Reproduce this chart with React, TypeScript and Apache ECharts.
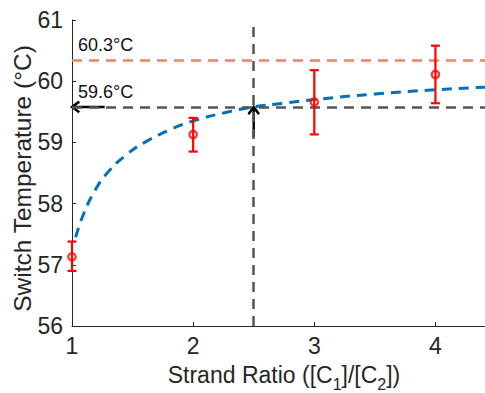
import React, { useEffect, useRef } from "react";
import * as echarts from "echarts";

// Measured points (mean with error range)
const ratios = [1, 2, 3, 4];
const tempMean = [57.13, 59.13, 59.66, 60.11];
const tempLow = [56.9, 58.85, 59.13, 59.64];
const tempHigh = [57.38, 59.4, 60.18, 60.58];

// Fitted curve
const fitX = [1.03, 1.1, 1.2, 1.3, 1.45, 1.6, 1.8, 2.0, 2.25, 2.5, 2.75, 3.0, 3.5, 4.0, 4.5];
const fitY = [57.45, 57.85, 58.25, 58.52, 58.8, 59.0, 59.2, 59.35, 59.48, 59.58, 59.64, 59.7, 59.79, 59.86, 59.91];

// Reference levels
const plateauTemp = 60.35;
const plateauLabel = "60.3°C";
const switchTemp = 59.58;
const switchLabel = "59.6°C";
const switchRatio = 2.5;

// Axis setup
const xMin = 1;
const xMax = 4.5;
const yMin = 56;
const yMax = 61;
const xTicks = [1, 2, 3, 4];

// Arrows: tail x, tail y, head x, head y
const arrows = [
  [1.27, switchTemp, 1.0, switchTemp],
  [switchRatio, 59.09, switchRatio, switchTemp],
];

export default function App() {
  const ref = useRef<HTMLDivElement>(null);
  useEffect(() => {
    if (!ref.current) return;
    const chart = echarts.init(ref.current, null, { renderer: "svg" });
    const font = "Liberation Sans, Arial, sans-serif";
    const axisColor = "#262626";
    chart.setOption({
      animation: false,
      grid: {
        left: 72,
        top: 20,
        width: 424,
        height: 306,
        containLabel: false,
        outerBoundsMode: "none",
      },
      xAxis: {
        type: "value",
        min: xMin,
        max: xMax,
        interval: 1,
        name: "Strand Ratio ([C{s|1}]/[C{s|2}])",
        nameLocation: "middle",
        nameGap: 31,
        nameMoveOverlap: false,
        nameTextStyle: {
          fontFamily: font,
          fontSize: 23,
          color: axisColor,
          rich: {
            s: { fontSize: 16, fontFamily: font, color: axisColor, padding: [19, 0, 0, 0] },
          },
        },
        splitLine: { show: false },
        axisLine: { lineStyle: { color: axisColor, width: 1 } },
        axisTick: { inside: true, length: 4, lineStyle: { color: axisColor } },
        axisLabel: {
          fontFamily: font,
          fontSize: 23,
          color: axisColor,
          margin: 8,
          customValues: xTicks,
          formatter: (v: number) => (xTicks.includes(v) ? String(v) : ""),
        },
      },
      yAxis: {
        type: "value",
        min: yMin,
        max: yMax,
        interval: 1,
        name: "Switch Temperature (°C)",
        nameLocation: "middle",
        nameGap: 37,
        nameMoveOverlap: false,
        nameTextStyle: {
          fontFamily: font,
          fontSize: 24.5,
          color: axisColor,
          padding: [0, 11, 0, 0],
        },
        splitLine: { show: false },
        axisLine: { show: true, lineStyle: { color: axisColor, width: 1 } },
        axisTick: { show: true, inside: true, length: 4, lineStyle: { color: axisColor } },
        axisLabel: { fontFamily: font, fontSize: 23, color: axisColor, margin: 9 },
      },
      series: [
        {
          type: "line",
          data: [],
          silent: true,
          markLine: {
            silent: true,
            symbol: ["none", "none"],
            animation: false,
            data: [
              [
                {
                  coord: [xMin, plateauTemp],
                  lineStyle: { color: "#E8875E", width: 2.5, type: [10, 7] },
                  label: {
                    show: true,
                    position: "insideStartTop",
                    formatter: plateauLabel,
                    fontFamily: font,
                    fontSize: 18,
                    color: "#111",
                    distance: [6, 6],
                  },
                },
                { coord: [xMax, plateauTemp] },
              ],
              [
                {
                  coord: [xMin, switchTemp],
                  lineStyle: { color: "#555555", width: 2.5, type: [10, 7] },
                  label: {
                    show: true,
                    position: "insideStartTop",
                    formatter: switchLabel,
                    fontFamily: font,
                    fontSize: 18,
                    color: "#111",
                    distance: [6, 6],
                  },
                },
                { coord: [xMax, switchTemp] },
              ],
              [
                {
                  coord: [switchRatio, yMin],
                  lineStyle: { color: "#555555", width: 2.5, type: [10, 7] },
                  label: { show: false },
                },
                { coord: [switchRatio, 60.95] },
              ],
            ],
          },
        },
        {
          type: "line",
          data: fitX.map((x, i) => [x, fitY[i]]),
          showSymbol: false,
          smooth: true,
          lineStyle: { color: "#0072BD", width: 3, type: [10, 7] },
          z: 3,
        },
        {
          type: "custom",
          data: arrows,
          encode: { x: [0, 2], y: [1, 3] },
          z: 4,
          renderItem: (params: any, api: any) => {
            const p0 = api.coord([api.value(0), api.value(1)]);
            const p1 = api.coord([api.value(2), api.value(3)]);
            const ang = Math.atan2(p1[1] - p0[1], p1[0] - p0[0]);
            const L = 9;
            const a = Math.PI / 5;
            const h1 = [p1[0] - L * Math.cos(ang - a), p1[1] - L * Math.sin(ang - a)];
            const h2 = [p1[0] - L * Math.cos(ang + a), p1[1] - L * Math.sin(ang + a)];
            const st = { stroke: "#000", lineWidth: 2.5, fill: "none" };
            return {
              type: "group",
              children: [
                { type: "line", shape: { x1: p0[0], y1: p0[1], x2: p1[0], y2: p1[1] }, style: st },
                { type: "polyline", shape: { points: [h1, p1, h2] }, style: st },
              ],
            };
          },
        },
        {
          type: "custom",
          data: ratios.map((x, i) => [x, tempLow[i], tempHigh[i]]),
          encode: { x: 0, y: [1, 2] },
          z: 5,
          renderItem: (params: any, api: any) => {
            const x = api.value(0);
            const lo = api.coord([x, api.value(1)]);
            const hi = api.coord([x, api.value(2)]);
            const w = 4.5;
            const st = { stroke: "#FF0000", lineWidth: 2.2 };
            return {
              type: "group",
              children: [
                { type: "line", shape: { x1: lo[0], y1: lo[1], x2: hi[0], y2: hi[1] }, style: st },
                { type: "line", shape: { x1: lo[0] - w, y1: lo[1], x2: lo[0] + w, y2: lo[1] }, style: st },
                { type: "line", shape: { x1: hi[0] - w, y1: hi[1], x2: hi[0] + w, y2: hi[1] }, style: st },
              ],
            };
          },
        },
        {
          type: "scatter",
          data: ratios.map((x, i) => [x, tempMean[i]]),
          symbol: "circle",
          symbolSize: 7.5,
          itemStyle: { color: "rgba(255,255,255,0)", borderColor: "#FF0000", borderWidth: 2.2 },
          z: 6,
        },
      ],
    });
    return () => chart.dispose();
  }, []);
  return (
    <div
      ref={ref}
      style={{ position: "absolute", left: 0, top: 0, width: 485, height: 393, background: "#fff" }}
    />
  );
}
